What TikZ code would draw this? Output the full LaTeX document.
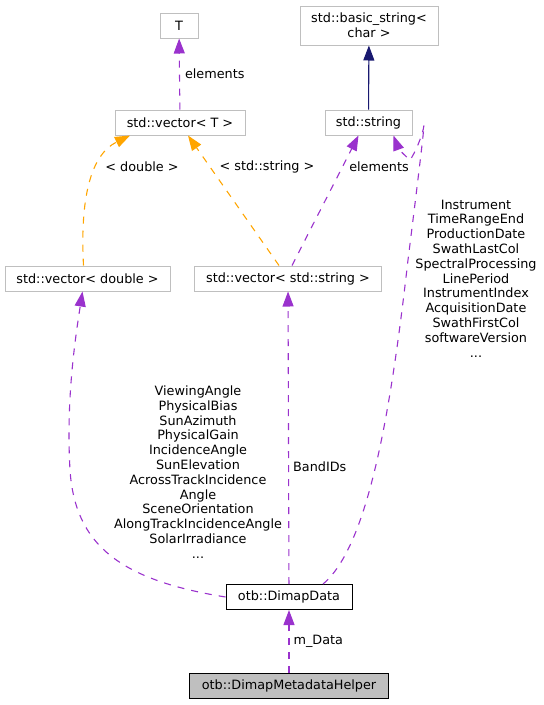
\documentclass[tikz,border=0pt]{standalone}
\usepackage{fontspec}
\setmainfont{DejaVu Sans}
\usetikzlibrary{arrows.meta}
\definecolor{boxgray}{HTML}{BFBFBF}
\definecolor{usepurple}{HTML}{9A32CD}
\definecolor{tmplorange}{HTML}{FFA500}
\definecolor{inhnavy}{HTML}{191970}
\tikzset{
  classnode/.style = {shape=rectangle, draw=boxgray, line width=1pt,
                      minimum height=25pt, inner sep=0pt, align=center,
                      font=\fontsize{12.8}{14.8}\selectfont},
  mainnode/.style  = {classnode, draw=black},
  helper/.style    = {mainnode, fill=boxgray},
  usage/.style     = {draw=usepurple, line width=1.1pt, dash pattern=on 7pt off 7pt,
                      -{Triangle[length=15pt, width=11pt]}},
  templ/.style     = {usage, draw=tmplorange},
  inherit/.style   = {draw=inhnavy, line width=1.1pt,
                      -{Triangle[length=15pt, width=11pt]}},
  lbl/.style       = {align=center, inner sep=0pt,
                      font=\fontsize{12.8}{14.8}\selectfont}
}
\begin{document}
\begin{tikzpicture}[x=1pt, y=-1pt]
    \useasboundingbox (0,0) rectangle (544,705);

    \node [classnode, minimum width=38pt] (T) at (179,25.5) {T};
    \node [classnode, minimum width=138pt, minimum height=39pt] (basicstr) at (369,25.5) {std::basic\_string<\\char >};
    \node [classnode, minimum width=130pt] (vecT) at (180,122.5) {std::vector< T >};
    \node [classnode, minimum width=87pt] (str) at (368.5,122.5) {std::string};
    \node [classnode, minimum width=165pt] (vecdbl) at (87.5,278.5) {std::vector< double >};
    \node [classnode, minimum width=187pt] (vecstr) at (288,278.5) {std::vector< std::string >};
    \node [mainnode, minimum width=126pt] (dimap) at (289,597) {otb::DimapData};
    \node [helper, minimum width=199pt] (meta) at (289,686) {otb::DimapMetadataHelper};

    % inheritance and template links
    \draw [inherit] (str) -- (basicstr);
    \draw [usage] (vecT) -- (T) node [lbl, anchor=west, pos=0.5, xshift=5pt] {elements};
    \draw [templ] ([xshift=-4pt]vecdbl.north) .. controls (80,200) and (90,155) .. ([xshift=-50pt]vecT.south);
    \node [lbl] (dbllbl) at (142,167) {< double >};
    \draw [templ] ([xshift=-9pt]vecstr.north) -- ([xshift=8pt]vecT.south);
    \node [lbl] (strlbl) at (267,167) {< std::string >};
    \draw [usage] ([xshift=4pt]vecstr.north) -- ([xshift=-10pt]str.south);
    \node [lbl] (elemlbl) at (379,167) {elements};

    % members of otb::DimapData
    \draw [usage] (dimap.west) .. controls (120,580) and (75,545) .. (70,470)
                  .. controls (66,400) and (75,340) .. ([xshift=-5pt]vecdbl.south);
    \node [lbl] (leftlbl) at (198,472) {ViewingAngle\\PhysicalBias\\SunAzimuth\\PhysicalGain\\IncidenceAngle\\SunElevation\\AcrossTrackIncidence\\Angle\\SceneOrientation\\AlongTrackIncidenceAngle\\SolarIrradiance\\...};
    \draw [usage] (dimap) -- (vecstr) node [lbl, pos=0.4, anchor=west, xshift=4pt] {BandIDs};
    \draw [usage] ([xshift=34pt]dimap.north) .. controls (370,545) and (392,400) .. (408,260)
                  .. controls (418,180) and (424,130) .. (424,125)
                  .. controls (423,135) and (414,155) .. (410,160)
                  .. controls (404,155) and (398,148) .. ([xshift=25pt]str.south);
    \node [lbl] (rightlbl) at (476,278.5) {Instrument\\TimeRangeEnd\\ProductionDate\\SwathLastCol\\SpectralProcessing\\LinePeriod\\InstrumentIndex\\AcquisitionDate\\SwathFirstCol\\softwareVersion\\...};
    \draw [usage] (meta) -- (dimap) node [lbl, pos=0.5, anchor=west, xshift=4pt] {m\_Data};
\end{tikzpicture}
\end{document}
